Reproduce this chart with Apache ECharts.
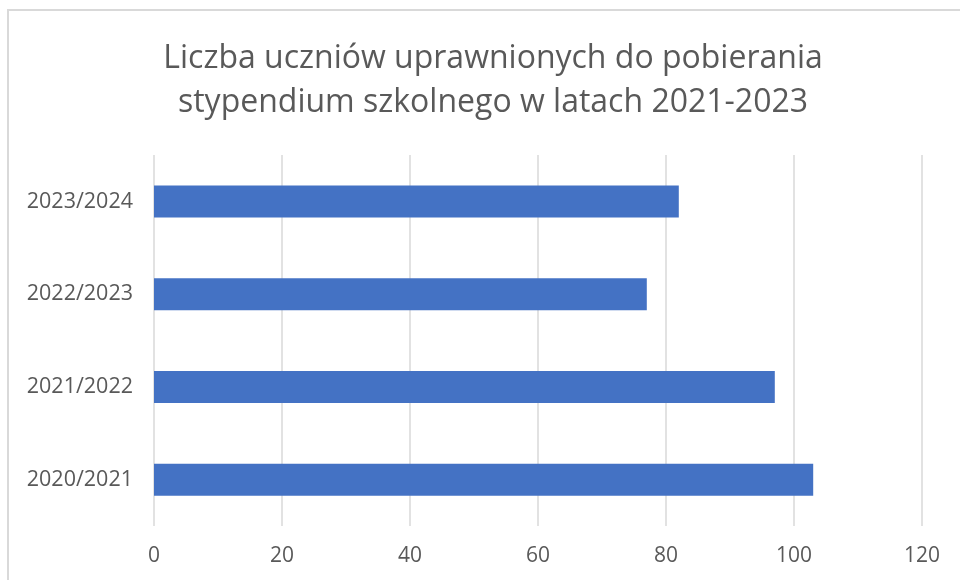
<!DOCTYPE html>
<html>
<head>
<meta charset="utf-8">
<script src="https://cdn.jsdelivr.net/npm/echarts@6/dist/echarts.min.js"></script>
<style>
  html, body { margin: 0; padding: 0; background: #ffffff; }
  #chart { width: 960px; height: 580px; }
</style>
</head>
<body>
<div id="chart"></div>
<script>
const titleLines = ['Liczba uczniów uprawnionych do pobierania', 'stypendium szkolnego w latach 2021-2023']
const categories = ['2020/2021', '2021/2022', '2022/2023', '2023/2024']
const values = [103, 97, 77, 82]
const xTicks = { min: 0, max: 120, interval: 20 }

const chart = echarts.init(document.getElementById('chart'))
chart.setOption({
  backgroundColor: '#ffffff',
  animation: false,
  title: {
    text: titleLines.join('\n'),
    left: 488,
    top: 32,
    textAlign: 'center',
    textStyle: {
      fontFamily: 'Open Sans',
      fontSize: 32,
      fontWeight: 'normal',
      color: '#595959',
      lineHeight: 44
    }
  },
  graphic: [{
    type: 'rect',
    shape: { x: 8, y: 10, width: 1000, height: 1000 },
    style: { fill: 'none', stroke: '#d9d9d9', lineWidth: 2 },
    silent: true
  }],
  grid: {
    left: 154,
    right: 38,
    top: 155,
    bottom: 54
  },
  xAxis: {
    type: 'value',
    min: xTicks.min,
    max: xTicks.max,
    interval: xTicks.interval,
    axisLine: { show: false },
    axisTick: { show: false },
    splitLine: { lineStyle: { color: '#d9d9d9', width: 1.5 } },
    axisLabel: {
      color: '#595959',
      fontFamily: 'Open Sans',
      fontSize: 21,
      margin: 20
    }
  },
  yAxis: {
    type: 'category',
    data: categories,
    axisLine: { show: false },
    axisTick: { show: false },
    splitLine: { show: false },
    axisLabel: {
      color: '#595959',
      fontFamily: 'Open Sans',
      fontSize: 21.5,
      margin: 21
    }
  },
  series: [{
    type: 'bar',
    data: values,
    barWidth: 32,
    itemStyle: { color: '#4472c4' }
  }]
})
</script>
</body>
</html>
